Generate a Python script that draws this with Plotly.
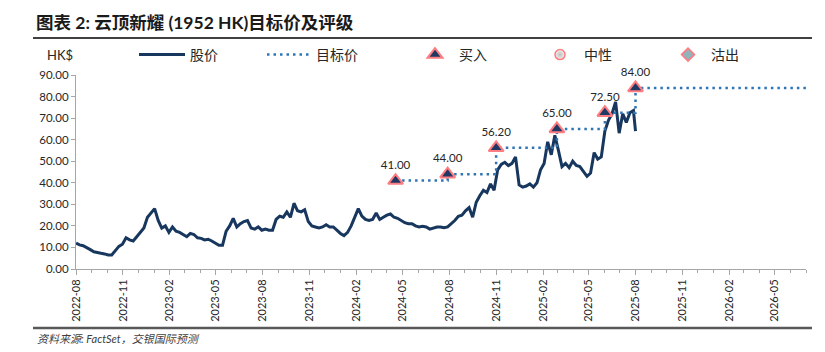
import pandas as pd
import plotly.graph_objects as go

# ---------------- data ----------------
price_start = "2022-08-01"
price_weekly = [
    12, 11.2, 10.8, 10, 9, 8, 7.8, 7.3, 7, 6.5,
    6.5, 8.5, 10.5, 11.5, 14.5, 13.5, 13, 15, 17, 19,
    24, 26, 28, 22.5, 19, 20, 17, 19.5, 17.5, 17,
    16, 15, 16.5, 16, 14.5, 14.2, 13.5, 13.8, 13, 12,
    11, 11, 17.5, 20, 23.5, 19.5, 21, 22, 22.5, 19,
    18.5, 19.5, 18, 18.5, 18, 18, 23, 24.5, 24, 26.5,
    24, 30.5, 27, 26.5, 27.5, 22, 20, 19.5, 19, 19.5,
    20.5, 19.5, 19.5, 18, 16.5, 15.5, 17, 20, 24.5, 28,
    24.5, 23, 22.5, 23, 26, 23, 24, 25, 25.5, 24,
    23.5, 22.5, 21.5, 21, 21, 20, 19.5, 19.8, 19.5, 18.5,
    19, 19.5, 19.5, 19.2, 19.5, 21, 22.5, 24.5, 25, 27,
    28.5, 24, 31, 34, 36.5, 35.5, 39.5, 36.5, 46, 48.5,
    49.5, 48, 49, 52, 39, 38, 38.5, 39.5, 38, 40,
    46, 49, 59, 53, 62, 55, 47.5, 49, 47, 50,
    48, 47.5, 45, 43, 44.5, 54, 51, 52, 64, 69,
    72, 77.5, 63, 72, 68, 72.5, 73.5,
]
price_last_date = "2025-08-01"
price_last_value = 64

target_dates = ["2024-04-18", "2024-07-29", "2024-11-01", "2025-02-28", "2025-06-02", "2025-08-01"]
target_values = [41.00, 44.00, 56.20, 65.00, 72.50, 84.00]
target_end_date = "2026-07-01"

x_range = ["2022-08-01", "2026-07-01"]
y_ticks = [0, 10, 20, 30, 40, 50, 60, 70, 80, 90]

title_text = "图表 2: 云顶新耀 (1952 HK)目标价及评级"
source_text = "资料来源: FactSet，交银国际预测"
unit_text = "HK$"

# ---------------- build ----------------
price_dates = list(pd.date_range(price_start, periods=len(price_weekly), freq="7D").strftime("%Y-%m-%d"))
price_dates.append(price_last_date)
price_vals = price_weekly + [price_last_value]

line_dates = target_dates + [target_end_date]
line_vals = target_values + [target_values[-1]]

FONT = "Lato, 'Noto Sans CJK SC', sans-serif"
CJK = "'Noto Sans CJK SC', Lato, sans-serif"
NAVY = "#17375E"
DOT = "#2E75B6"
PINK = "#FF7C80"
AX = "#A6A6A6"

fig = go.Figure()
fig.add_trace(go.Scatter(
    x=price_dates, y=price_vals, mode="lines", name="股价",
    line=dict(color=NAVY, width=3), legend="legend"))
fig.add_trace(go.Scatter(
    x=line_dates, y=line_vals, mode="lines", name="目标价", line_shape="hv",
    line=dict(color=DOT, width=2.5, dash="2.5px,4px"), legend="legend2"))
fig.add_trace(go.Scatter(
    x=target_dates, y=target_values, mode="markers+text", name="买入",
    text=[f"{v:.2f}" for v in target_values], textposition="top center",
    textfont=dict(family=FONT, size=11.5, color="#262626"), cliponaxis=False,
    marker=dict(symbol="triangle-up", size=13, color="#1F3864",
                line=dict(color=PINK, width=2)), legend="legend3"))
fig.add_trace(go.Scatter(
    x=[None], y=[None], mode="markers", name="中性",
    marker=dict(symbol="circle", size=10, color="#F2F2F2",
                gradient=dict(type="radial", color="#BFBFBF"),
                line=dict(color=PINK, width=1.5)), legend="legend4"))
fig.add_trace(go.Scatter(
    x=[None], y=[None], mode="markers", name="沽出",
    marker=dict(symbol="diamond", size=10, color="#93B3BB",
                line=dict(color=PINK, width=1.5)), legend="legend5"))

L, R, T, B = 76, 19, 75, 83
W, H = 825, 352
pw, ph = W - L - R, H - T - B


def px(x):
    return (x - L) / pw


def py(y):
    return (H - B - y) / ph


def leg(xpix, iw):
    return dict(x=px(xpix), y=py(55), xanchor="left", yanchor="middle",
                orientation="h", bgcolor="rgba(0,0,0,0)", itemwidth=iw,
                font=dict(family=CJK, size=14, color="#262626"))


fig.update_layout(
    width=W, height=H,
    margin=dict(l=L, r=R, t=T, b=B),
    plot_bgcolor="white", paper_bgcolor="white",
    showlegend=True,
    legend=leg(134, 46), legend2=leg(262, 44), legend3=leg(411, 38),
    legend4=leg(536, 38), legend5=leg(665, 36),
    xaxis=dict(type="date", range=x_range, tick0="2022-08-01", dtick="M3",
               tickformat="%Y-%m", tickangle=-90, ticks="outside", ticklen=5,
               tickcolor=AX, showline=True, linecolor=AX, linewidth=1,
               showgrid=False, zeroline=False,
               tickfont=dict(family=FONT, size=11, color="#262626"),
               minor=dict(dtick="M1", ticks="outside", ticklen=3, tickcolor=AX, showgrid=False)),
    yaxis=dict(range=[0, 90], tickvals=y_ticks, tickformat=".2f", ticks="outside",
               ticklen=4, tickcolor=AX, showline=True, linecolor=AX, linewidth=1,
               showgrid=False, zeroline=False,
               tickfont=dict(family=FONT, size=11.5, color="#262626")),
    shapes=[
        dict(type="line", xref="paper", yref="paper", x0=px(33), x1=px(812),
             y0=py(38), y1=py(38), line=dict(color="#404040", width=2)),
        dict(type="line", xref="paper", yref="paper", x0=px(33), x1=px(812),
             y0=py(328), y1=py(328), line=dict(color="#595959", width=2.5)),
    ],
    annotations=[
        dict(text=f"<b>{title_text}</b>", xref="paper", yref="paper", x=px(34), y=py(22),
             xanchor="left", yanchor="middle", showarrow=False,
             font=dict(family=FONT, size=17.5, color="#1a1a1a")),
        dict(text=unit_text, xref="paper", yref="paper", x=px(45), y=py(55),
             xanchor="left", yanchor="middle", showarrow=False,
             font=dict(family=FONT, size=13, color="#262626")),
        dict(text=f"<i>{source_text}</i>", xref="paper", yref="paper", x=px(35), y=py(338),
             xanchor="left", yanchor="middle", showarrow=False,
             font=dict(family=FONT, size=11, color="#404040")),
    ],
)

fig.write_html("out.html")
